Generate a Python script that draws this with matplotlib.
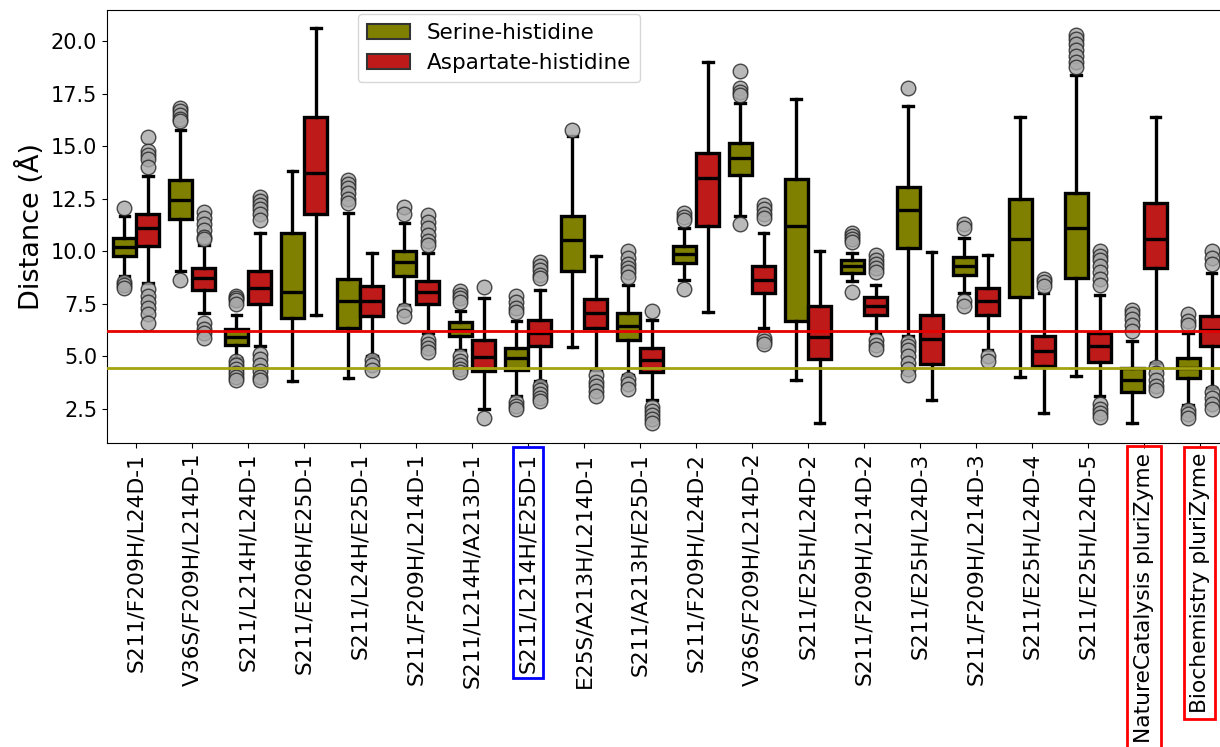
import numpy as np
from matplotlib import pyplot as plt
from matplotlib.patches import Patch

labels = ['S211/F209H/L24D-1', 'V36S/F209H/L214D-1', 'S211/L214H/L24D-1',
          'S211/E206H/E25D-1', 'S211/L24H/E25D-1', 'S211/F209H/L214D-1',
          'S211/L214H/A213D-1', 'S211/L214H/E25D-1', 'E25S/A213H/L214D-1',
          'S211/A213H/E25D-1', 'S211/F209H/L24D-2', 'V36S/F209H/L214D-2',
          'S211/E25H/L24D-2', 'S211/F209H/L214D-2', 'S211/E25H/L24D-3',
          'S211/F209H/L214D-3', 'S211/E25H/L24D-4', 'S211/E25H/L24D-5',
          'NatureCatalysis pluriZyme', 'Biochemistry pluriZyme']

# serine-histidine distances (whisker low, q1, median, q3, whisker high)
ser_lo = [8.81, 9.05, 4.93, 3.81, 3.98, 7.47, 5.32, 3.10, 5.45, 4.13,
          8.66, 11.67, 3.86, 8.58, 5.96, 8.02, 4.00, 4.05, 1.83, 2.70]
ser_q1 = [9.77, 11.56, 5.56, 6.83, 6.36, 8.85, 5.96, 4.34, 9.05, 5.80,
          9.45, 13.66, 6.67, 8.98, 10.17, 8.90, 7.82, 8.74, 3.29, 3.98]
ser_med = [10.21, 12.47, 5.93, 8.05, 7.62, 9.48, 6.28, 4.93, 10.56, 6.43,
           9.90, 14.45, 11.20, 9.29, 11.99, 9.32, 10.60, 11.12, 3.90, 4.45]
ser_q3 = [10.63, 13.42, 6.31, 10.88, 8.69, 10.00, 6.62, 5.40, 11.67, 7.07,
          10.28, 15.17, 13.47, 9.61, 13.07, 9.74, 12.51, 12.79, 4.45, 4.93]
ser_hi = [11.67, 15.80, 6.99, 13.81, 11.83, 11.36, 7.15, 6.67, 15.48, 8.42,
          11.12, 17.07, 17.26, 9.93, 16.94, 10.64, 16.39, 18.42, 5.72, 6.12]
ser_fliers = [
    [12.05, 8.55, 8.4, 8.25],
    [16.85, 16.7, 16.5, 16.3, 16.2, 8.65],
    [7.9, 7.8, 7.7, 7.5, 4.8, 4.6, 4.4, 4.2, 4.0, 3.9],
    [],
    [13.4, 13.2, 13.0, 12.8, 12.5, 12.3],
    [12.1, 11.8, 7.2, 6.95],
    [8.1, 7.95, 7.8, 7.6, 5.0, 4.8, 4.6, 4.4, 4.25],
    [7.9, 7.6, 7.3, 7.1, 2.85, 2.65, 2.5],
    [15.8],
    [10.0, 9.7, 9.4, 9.2, 9.0, 8.8, 3.95, 3.7, 3.45],
    [11.85, 11.65, 11.5, 8.2],
    [18.6, 17.8, 17.6, 17.45, 11.3],
    [],
    [10.9, 10.75, 10.6, 10.45, 8.05],
    [17.8, 5.7, 5.5, 5.3, 5.0, 4.7, 4.4, 4.1],
    [11.3, 11.1, 7.65, 7.4],
    [],
    [20.3, 20.1, 19.9, 19.6, 19.3, 19.0, 18.8],
    [7.2, 7.0, 6.8, 6.5, 6.2],
    [7.0, 6.7, 6.5, 2.45, 2.25, 2.05],
]

# aspartate-histidine distances
asp_lo = [8.50, 7.07, 5.48, 6.99, 5.00, 6.12, 2.50, 3.81, 4.37, 2.94,
          7.10, 6.36, 1.83, 6.12, 2.94, 5.32, 2.31, 3.10, 4.69, 3.50]
asp_q1 = [10.28, 8.18, 7.51, 11.79, 6.91, 7.51, 4.29, 5.48, 6.36, 4.24,
          11.20, 8.02, 4.88, 6.99, 4.64, 6.99, 4.56, 4.72, 9.21, 5.48]
asp_med = [11.12, 8.74, 8.24, 13.73, 7.62, 8.05, 4.98, 6.12, 7.07, 4.85,
           13.50, 8.66, 5.93, 7.42, 5.83, 7.62, 5.24, 5.48, 10.60, 6.28]
asp_q3 = [11.79, 9.21, 9.05, 16.40, 8.34, 8.58, 5.77, 6.75, 7.74, 5.40,
          14.69, 9.32, 7.39, 7.82, 6.99, 8.26, 5.99, 6.12, 12.31, 6.94]
asp_hi = [13.58, 10.32, 10.88, 20.64, 9.93, 9.93, 7.79, 8.18, 9.80, 6.75,
          19.00, 10.88, 10.00, 8.42, 9.96, 9.85, 8.02, 7.94, 16.39, 8.98]
asp_fliers = [
    [15.45, 14.8, 14.6, 14.4, 14.0, 8.2, 7.9, 7.6, 7.3, 7.0, 6.6],
    [11.9, 11.6, 11.3, 11.0, 10.7, 10.6, 6.6, 6.3, 6.1, 5.9],
    [12.6, 12.4, 12.2, 12.0, 11.8, 11.5, 5.1, 4.9, 4.6, 4.3, 4.0, 3.9],
    [],
    [4.85, 4.6, 4.35],
    [11.75, 11.4, 11.1, 10.8, 10.5, 10.3, 5.8, 5.6, 5.4, 5.2],
    [8.3, 2.05],
    [9.5, 9.3, 9.1, 8.9, 8.75, 3.6, 3.4, 3.2, 3.0, 2.9],
    [4.1, 3.8, 3.6, 3.35, 3.1],
    [7.15, 2.6, 2.4, 2.2, 2.0, 1.85],
    [],
    [12.2, 12.0, 11.8, 11.6, 5.9, 5.75, 5.6],
    [],
    [9.85, 9.6, 9.4, 9.2, 9.0, 5.8, 5.55, 5.35],
    [],
    [5.0, 4.8],
    [8.7, 8.55, 8.35],
    [10.0, 9.8, 9.6, 9.3, 9.0, 8.7, 8.4, 2.75, 2.5, 2.3, 2.1],
    [4.5, 4.2, 3.9, 3.6, 3.4],
    [10.0, 9.7, 9.4, 3.3, 3.0, 2.75, 2.5],
]

ser_ref = 4.43
asp_ref = 6.22

olive = '#808000'
red = '#be1a1a'


def make_stats(lo, q1, med, q3, hi, fl):
    return [dict(whislo=lo[i], q1=q1[i], med=med[i], q3=q3[i], whishi=hi[i],
                 fliers=np.array(fl[i])) for i in range(len(lo))]


fig = plt.figure(figsize=(12.2, 7.47), dpi=100)
ax = fig.add_axes([107 / 1220, 304 / 747, 1122 / 1220, 433 / 747])

pos = np.arange(len(labels))
for stats, off, col in [(make_stats(ser_lo, ser_q1, ser_med, ser_q3, ser_hi, ser_fliers), -0.21, olive),
                        (make_stats(asp_lo, asp_q1, asp_med, asp_q3, asp_hi, asp_fliers), 0.21, red)]:
    ax.bxp(stats, positions=pos + off, widths=0.41, capwidths=0.17,
           patch_artist=True, manage_ticks=False,
           boxprops=dict(facecolor=col, edgecolor='black', linewidth=2.4),
           medianprops=dict(color='black', linewidth=2.4),
           whiskerprops=dict(color='black', linewidth=2.4),
           capprops=dict(color='black', linewidth=2.4),
           flierprops=dict(marker='o', markerfacecolor='#a8a8a8',
                           markeredgecolor='#222222', markeredgewidth=1.0,
                           markersize=10.5, alpha=0.8))

ax.axhline(asp_ref, color='#e60000', lw=2, zorder=5)
ax.axhline(ser_ref, color='#a3a310', lw=2, zorder=5)

ax.set_xlim(-0.52, 19.52)
ax.set_ylim(0.88, 21.5)
ax.set_yticks([2.5, 5.0, 7.5, 10.0, 12.5, 15.0, 17.5, 20.0])
ax.tick_params(axis='y', labelsize=15)
ax.set_xticks(pos)
ax.set_xticklabels(labels, rotation=90, fontsize=15.7)
ax.set_ylabel('Distance (Å)', fontsize=19.5)

tl = ax.get_xticklabels()
tl[7].set_bbox(dict(facecolor='none', edgecolor='blue', linewidth=2, pad=4))
tl[18].set_bbox(dict(facecolor='none', edgecolor='red', linewidth=2, pad=5))
tl[19].set_bbox(dict(facecolor='none', edgecolor='red', linewidth=2, pad=4))

handles = [Patch(facecolor=olive, edgecolor='#333333', linewidth=1.5, label='Serine-histidine'),
           Patch(facecolor=red, edgecolor='#333333', linewidth=1.5, label='Aspartate-histidine')]
ax.legend(handles=handles, loc='upper left', fontsize=15.5, borderaxespad=0,
          bbox_to_anchor=((358 - 107) / 1122, (443 - 14) / 433))

plt.savefig('out.png', dpi=100)
